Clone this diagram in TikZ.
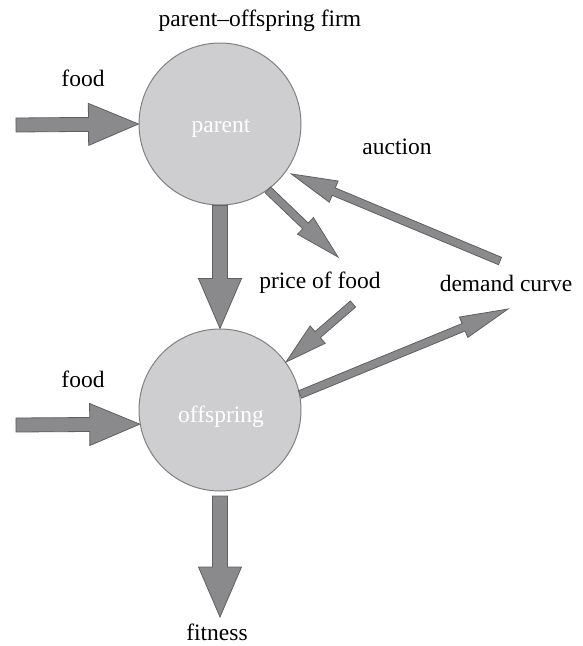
\documentclass[tikz,border=0pt]{standalone}
\usepackage{fontspec}
\setmainfont{Liberation Serif}
\newfontfamily\lbfont{Liberation Serif}
\usetikzlibrary{calc}
\definecolor{circfill}{RGB}{206,206,208}
\definecolor{circdraw}{RGB}{128,128,128}
\definecolor{arrfill}{RGB}{138,138,140}
\definecolor{arrdraw}{RGB}{95,95,95}
\tikzset{
  bubble/.style={circle, fill=circfill, draw=circdraw, line width=1pt, minimum size=162pt, inner sep=0pt},
  lbl/.style={inner sep=0pt, font=\lbfont\fontsize{23.5}{28}\selectfont},
  inlbl/.style={lbl, text=white},
  barrow/.style={fill=arrfill, draw=arrdraw, line width=0.8pt, line join=miter},
}
% from, to, shaft half-width, head half-width, head length
\newcommand\blockarrow[5]{%
  \path ($(#2)!#5!(#1)$) coordinate (tmpH);
  \draw[barrow] ($(#1)!#3!90:(#2)$) -- ($(tmpH)!#3!90:(#2)$) -- ($(tmpH)!#4!90:(#2)$) -- (#2)
    -- ($(tmpH)!#4!-90:(#2)$) -- ($(tmpH)!#3!-90:(#2)$) -- ($(#1)!#3!-90:(#2)$) -- cycle;
}
\begin{document}
\begin{tikzpicture}[x=1pt,y=-1pt]
\useasboundingbox (0,0) rectangle (582,646);
% circles
\node[bubble] (parent) at (220,124) {};
\node[bubble] (offspring) at (220,410) {};
\node[inlbl] (parentlbl) at (221,128) {parent};
\node[inlbl] (offspringlbl) at (221,417) {offspring};
% labels
\node[lbl] (title) at (260,21) {parent–offspring firm};
\node[lbl] (food1) at (83,78) {food};
\node[lbl] (food2) at (83,379) {food};
\node[lbl] (auction) at (397,147) {auction};
\node[lbl] (price) at (320,283) {price of food};
\node[lbl] (demand) at (506,283) {demand curve};
\node[lbl] (fitness) at (217,632) {fitness};
% free ends
\coordinate (f1s) at (16,125);
\coordinate (f2s) at (16,425);
\coordinate (ppT) at (338,257);
\coordinate (auS) at (500,261);
\coordinate (auT) at ($(parent.center)!87pt!(parent.-35)$);
\coordinate (poS) at (353,304);
\coordinate (dmT) at (508,309);
\coordinate (fitS) at (220,496);
\coordinate (fitT) at (220,617);
% arrows
\blockarrow{f1s}{parent.west}{7pt}{21pt}{50pt}
\blockarrow{f2s}{offspring.190}{7pt}{21pt}{50pt}
\blockarrow{parent.south}{offspring.north}{7.5pt}{21.5pt}{50pt}
\blockarrow{fitS}{fitT}{7.5pt}{21.5pt}{50pt}
\blockarrow{parent.-54}{ppT}{4pt}{11.5pt}{45pt}
\blockarrow{auS}{auT}{4pt}{11.5pt}{46pt}
\blockarrow{poS}{offspring.36}{4pt}{11.5pt}{42pt}
\blockarrow{offspring.11}{dmT}{4pt}{11pt}{48pt}
\end{tikzpicture}
\end{document}
